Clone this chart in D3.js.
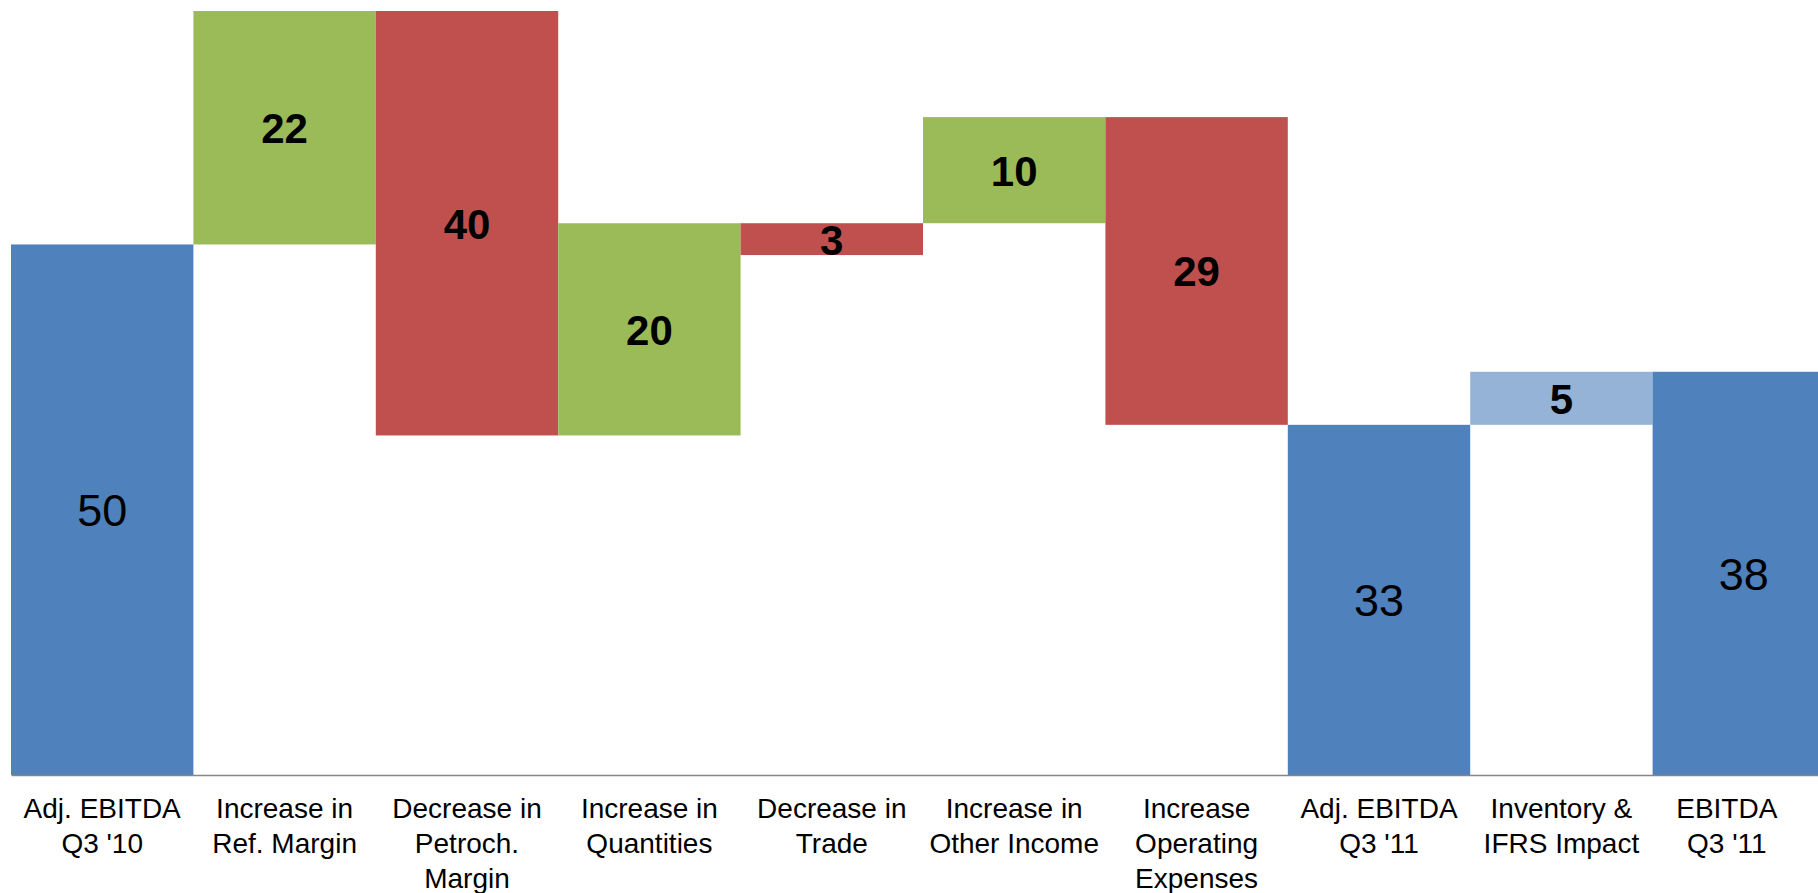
<!DOCTYPE html>
<html lang="en">
<head>
    <meta charset="UTF-8">
    <title>Waterfall</title>
    <style>
        body { margin: 0; background: #fff; }
        svg { display: block; font-family: "Liberation Sans", Arial, sans-serif; }
        .cat { font-size: 28px; fill: #000; }
        .val-total { font-size: 45px; fill: #000; }
        .val-delta { font-size: 42px; font-weight: bold; fill: #000; }
    </style>
</head>
<body>
<svg class="chart"></svg>
<script src="https://d3js.org/d3.v7.min.js"></script>
<script>
    var categories = [
        "Adj. EBITDA|Q3 '10",
        "Increase in|Ref. Margin",
        "Decrease in|Petroch.|Margin",
        "Increase in|Quantities",
        "Decrease in|Trade",
        "Increase in|Other Income",
        "Increase|Operating|Expenses",
        "Adj. EBITDA|Q3 '11",
        "Inventory &|IFRS Impact",
        "EBITDA|Q3 '11"
    ]
    // signed change shown by each bar
    var values = [50, 22, -40, 20, -3, 10, -29, 33, 5, 38]
    // level each bar starts from
    var bases = [0, 50, 72, 32, 52, 52, 62, 0, 33, 0]
    var kinds = ['total', 'up', 'down', 'up', 'down', 'up', 'down', 'total', 'adjust', 'total']

    var colors = { total: '#4F81BD', up: '#9BBB59', down: '#C0504D', adjust: '#95B3D7' }

    var svgWidth = 1818, svgHeight = 893
    // last band runs past the right edge and gets clipped, like the original
    var plotLeft = 11, plotRight = 1835, plotTop = 11, baseline = 775

    var svg = d3.select('svg')
        .attr('width', svgWidth)
        .attr('height', svgHeight)

    var x = d3.scaleBand()
        .domain(d3.range(categories.length))
        .range([plotLeft, plotRight])
        .padding(0)

    var y = d3.scaleLinear()
        .domain([0, 72])
        .range([baseline, plotTop])

    var data = categories.map(function (c, i) {
        return { cat: c, value: values[i], base: bases[i], kind: kinds[i], i: i }
    })

    svg.selectAll('rect.bar')
        .data(data)
        .enter()
        .append('rect')
        .attr('class', 'bar')
        .attr('x', function (d) { return x(d.i) })
        .attr('width', x.bandwidth())
        .attr('y', function (d) { return y(Math.max(d.base, d.base + d.value)) })
        .attr('height', function (d) { return Math.abs(y(d.base) - y(d.base + d.value)) })
        .attr('fill', function (d) { return colors[d.kind] })

    svg.selectAll('text.val')
        .data(data)
        .enter()
        .append('text')
        .attr('class', function (d) { return d.kind == 'total' ? 'val val-total' : 'val val-delta' })
        .attr('text-anchor', 'middle')
        .attr('dominant-baseline', 'central')
        .attr('x', function (d) { return x(d.i) + x.bandwidth() / 2 })
        .attr('y', function (d) { return (y(d.base) + y(d.base + d.value)) / 2 + 1 })
        .text(function (d) { return Math.abs(d.value) })

    // baseline axis
    var axis = svg.append('g')
        .attr('transform', 'translate(0,' + baseline + ')')
        .call(d3.axisBottom(x).tickSize(0).tickFormat(''))
    axis.select('.domain').attr('stroke', '#868686').attr('stroke-width', 1.5)

    var labels = svg.selectAll('text.cat')
        .data(data)
        .enter()
        .append('text')
        .attr('class', 'cat')
        .attr('text-anchor', 'middle')
        .attr('transform', function (d) {
            var cx = Math.min(x(d.i) + x.bandwidth() / 2, svgWidth - x.bandwidth() / 2)
            return 'translate(' + cx + ',' + (baseline + 43) + ')'
        })

    labels.selectAll('tspan')
        .data(function (d) { return d.cat.split('|') })
        .enter()
        .append('tspan')
        .attr('x', 0)
        .attr('y', function (d, i) { return i * 35 })
        .text(function (d) { return d })
</script>
</body>
</html>
